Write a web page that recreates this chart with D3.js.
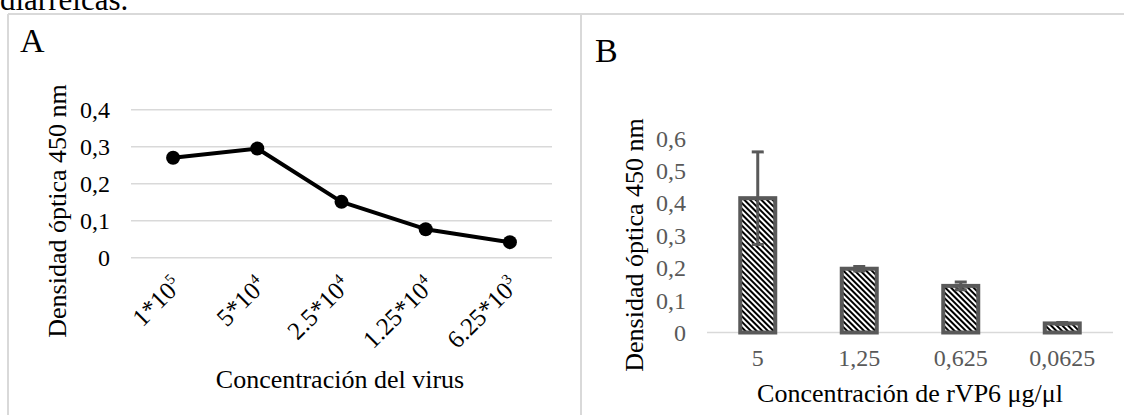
<!DOCTYPE html>
<html>
<head>
<meta charset="utf-8">
<script src="https://cdn.jsdelivr.net/npm/d3@7"></script>
<style>
body { margin: 0; background: #fff; }
svg, text, tspan { font-family: "Liberation Serif", "Times New Roman", "DejaVu Serif", serif; }
</style>
</head>
<body>
<script>
// panel A data
var catsA = ["1*10", "5*10", "2.5*10", "1.25*10", "6.25*10"];
var expsA = ["5", "4", "4", "4", "3"];
var valsA = [0.27, 0.295, 0.151, 0.077, 0.042];
var ticksA = [0, 0.1, 0.2, 0.3, 0.4];

// panel B data
var catsB = ["5", "1,25", "0,625", "0,0625"];
var valsB = [0.415, 0.197, 0.144, 0.028];
var errB = [0.143, 0.007, 0.012, 0.003];
var ticksB = [0, 0.1, 0.2, 0.3, 0.4, 0.5, 0.6];

var w = 1124, h = 415;
var grey = "#595959", light = "#d9d9d9";
var serif = "Liberation Serif, Times New Roman, serif";
var fmt = function (t) { return t === 0 ? "0" : d3.format(".1f")(t).replace(".", ","); };

const svg = d3.select("body").append("svg").attr("width", w).attr("height", h)
  .attr("font-family", serif);

// hatch for the bars
var pat = svg.append("defs").append("pattern").attr("id", "hatch")
  .attr("patternUnits", "userSpaceOnUse").attr("width", 4).attr("height", 4)
  .attr("patternTransform", "rotate(-45)");
pat.append("rect").attr("width", 4).attr("height", 4).attr("fill", "#fff");
pat.append("rect").attr("width", 2).attr("height", 4).attr("fill", "#000");

// text cut off above the figure
svg.append("text").attr("x", 0).attr("y", 10).attr("font-size", 31).text("diarreicas.");

// frame
svg.append("line").attr("x1", 8).attr("x2", w).attr("y1", 14).attr("y2", 14).attr("stroke", light).attr("stroke-width", 2);
svg.append("line").attr("x1", 8).attr("x2", 8).attr("y1", 14).attr("y2", h).attr("stroke", light).attr("stroke-width", 2);
svg.append("line").attr("x1", 581).attr("x2", 581).attr("y1", 14).attr("y2", h).attr("stroke", light).attr("stroke-width", 2);

//PANEL A
var xA = d3.scaleBand().domain(catsA).range([131, 552]);
var yA = d3.scaleLinear().domain([0, 0.4]).range([257.7, 109.7]);
var cA = function (c) { return xA(c) + xA.bandwidth() / 2; };

svg.append("text").attr("x", 20).attr("y", 52).attr("font-size", 34).text("A");

svg.selectAll(".gridA").data(ticksA).enter().append("line")
  .attr("x1", 131).attr("x2", 552)
  .attr("y1", d => yA(d)).attr("y2", d => yA(d))
  .attr("stroke", light).attr("stroke-width", 1.5);

svg.selectAll(".tickA").data(ticksA).enter().append("text")
  .attr("x", 110).attr("y", d => yA(d)).attr("dy", "0.35em")
  .attr("text-anchor", "end").attr("font-size", 24).text(fmt);

var lineA = d3.line().x((d, i) => cA(catsA[i])).y(d => yA(d));
svg.append("path").datum(valsA).attr("d", lineA)
  .attr("fill", "none").attr("stroke", "#000").attr("stroke-width", 4).attr("stroke-linejoin", "round");
svg.selectAll(".ptA").data(valsA).enter().append("circle")
  .attr("cx", (d, i) => cA(catsA[i])).attr("cy", d => yA(d)).attr("r", 7).attr("fill", "#000");

var labA = svg.selectAll(".labA").data(catsA).enter().append("text")
  .attr("transform", d => "translate(" + (cA(d) + 10) + ",287) rotate(-45)")
  .attr("text-anchor", "end").attr("font-size", 25);
labA.append("tspan").text(d => d);
labA.append("tspan").attr("font-size", 15).attr("dy", -10).text((d, i) => expsA[i]);

svg.append("text").attr("transform", "translate(66,211) rotate(-90)")
  .attr("text-anchor", "middle").attr("font-size", 26).text("Densidad óptica 450 nm");
svg.append("text").attr("x", 340).attr("y", 388)
  .attr("text-anchor", "middle").attr("font-size", 26).text("Concentración del virus");

//PANEL B
var xB = d3.scaleBand().domain(catsB).range([707, 1113]);
var yB = d3.scaleLinear().domain([0, 0.6]).range([332.5, 138.3]);
var bw = 35;
var cB = function (c) { return xB(c) + xB.bandwidth() / 2; };

svg.append("text").attr("x", 595).attr("y", 62).attr("font-size", 34).text("B");

svg.append("line").attr("x1", 707).attr("x2", 1113).attr("y1", yB(0)).attr("y2", yB(0))
  .attr("stroke", light).attr("stroke-width", 1.5);

svg.selectAll(".tickB").data(ticksB).enter().append("text")
  .attr("x", 686).attr("y", d => yB(d)).attr("dy", "0.35em")
  .attr("text-anchor", "end").attr("font-size", 24).attr("fill", grey).text(fmt);

svg.selectAll(".barB").data(valsB).enter().append("rect")
  .attr("x", (d, i) => cB(catsB[i]) - bw / 2).attr("width", bw)
  .attr("y", d => yB(d)).attr("height", d => yB(0) - yB(d))
  .attr("fill", "url(#hatch)").attr("stroke", grey).attr("stroke-width", 4);

var errG = svg.selectAll(".errB").data(valsB).enter().append("g").attr("stroke", grey).attr("stroke-width", 3);
errG.append("line").attr("x1", (d, i) => cB(catsB[i])).attr("x2", (d, i) => cB(catsB[i]))
  .attr("y1", (d, i) => yB(d - errB[i])).attr("y2", (d, i) => yB(d + errB[i]));
errG.append("line").attr("x1", (d, i) => cB(catsB[i]) - 6).attr("x2", (d, i) => cB(catsB[i]) + 6)
  .attr("y1", (d, i) => yB(d + errB[i])).attr("y2", (d, i) => yB(d + errB[i]));
errG.append("line").attr("x1", (d, i) => cB(catsB[i]) - 6).attr("x2", (d, i) => cB(catsB[i]) + 6)
  .attr("y1", (d, i) => yB(d - errB[i])).attr("y2", (d, i) => yB(d - errB[i]));

svg.selectAll(".labB").data(catsB).enter().append("text")
  .attr("x", d => cB(d)).attr("y", 366).attr("text-anchor", "middle")
  .attr("font-size", 24).attr("fill", grey).text(d => d);

svg.append("text").attr("transform", "translate(643,245) rotate(-90)")
  .attr("text-anchor", "middle").attr("font-size", 26).text("Densidad óptica 450 nm");
svg.append("text").attr("x", 910).attr("y", 402)
  .attr("text-anchor", "middle").attr("font-size", 26).text("Concentración de rVP6 μg/μl");
</script>
</body>
</html>
